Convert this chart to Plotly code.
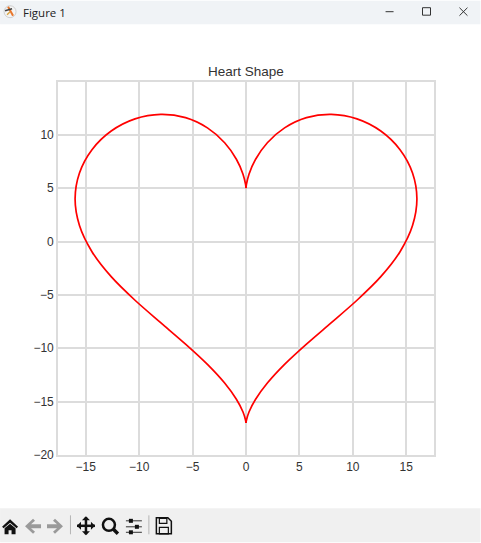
import plotly.graph_objects as go

W, H = 481, 543
L, R, T, B = 58, 434.5, 81.5, 455.5

# values
y_curve = [5, 5.35, 6.31, 7.71, 9.26, 10.65, 11.61, 11.92, 11.5, 10.36, 8.61, 6.43, 4,
           1.5, -0.95, -3.29, -5.5, -7.6, -9.61, -11.51, -13.26, -14.78, -15.97, -16.74, -17]
x_right = [0, 0.04, 0.28, 0.9, 2, 3.61, 5.66, 7.99, 10.39, 12.62, 14.42, 15.59, 16,
           15.59, 14.42, 12.62, 10.39, 7.99, 5.66, 3.61, 2, 0.9, 0.28, 0.04, 0]
x_left = [0, -0.04, -0.28, -0.9, -2, -3.61, -5.66, -7.99, -10.39, -12.62, -14.42, -15.59, -16,
          -15.59, -14.42, -12.62, -10.39, -7.99, -5.66, -3.61, -2, -0.9, -0.28, -0.04, 0]
x_ticks = [-15, -10, -5, 0, 5, 10, 15]
y_ticks = [-20, -15, -10, -5, 0, 5, 10]
title_text = "Heart Shape"
window_title = "Figure 1"


def px(x):
    return (x - L) / (R - L)


def py(y):
    return (B - y) / (B - T)


def poly(points, close=True):
    s = "M " + " L ".join(f"{px(a):.5f},{py(b):.5f}" for a, b in points)
    return s + (" Z" if close else "")


shapes = []


def add_path(points, fill=None, line=None, width=0, close=True):
    shapes.append(dict(type="path", xref="paper", yref="paper", path=poly(points, close),
                       fillcolor=fill if fill else "rgba(0,0,0,0)",
                       line=dict(color=line if line else "rgba(0,0,0,0)", width=width),
                       layer="above"))


def add_rect(x0, y0, x1, y1, fill=None, line=None, width=0):
    shapes.append(dict(type="rect", xref="paper", yref="paper",
                       x0=px(x0), x1=px(x1), y0=py(y0), y1=py(y1),
                       fillcolor=fill if fill else "rgba(0,0,0,0)",
                       line=dict(color=line if line else "rgba(0,0,0,0)", width=width),
                       layer="above"))


# window chrome
add_rect(0, 0, W, 23.5, fill="#f0f3f6")
add_rect(0, 509, W, H, fill="#f0f0f0")
# window buttons
add_path([(386, 11), (394, 11)], line="#333333", width=1, close=False)
add_rect(423, 7, 431, 14.5, line="#333333", width=1)
add_path([(460, 7), (468, 15)], line="#333333", width=1, close=False)
add_path([(468, 7), (460, 15)], line="#333333", width=1, close=False)
# app icon
shapes.append(dict(type="circle", xref="paper", yref="paper", x0=px(4), x1=px(16), y0=py(5), y1=py(17),
                   fillcolor="#f4f4f4", line=dict(color="#d0d0d0", width=1), layer="above"))
add_path([(8, 6), (13, 15)], line="#e8762c", width=2, close=False)
add_path([(5, 10), (12, 8)], line="#444444", width=1.5, close=False)
add_path([(7, 14), (10, 11)], line="#d9a441", width=1.5, close=False)
# home
add_path([(10, 520), (18, 527.5), (16.5, 529), (10, 523.5), (3.5, 529), (2, 527.5)], fill="#111111")
add_path([(4.5, 529), (10, 524.5), (15.5, 529), (15.5, 535), (11.5, 535), (11.5, 531),
          (8.5, 531), (8.5, 535), (4.5, 535)], fill="#111111")
# back / forward
add_path([(25, 527), (33, 519.5), (35, 521.5), (31, 525), (41, 525), (41, 529), (31, 529),
          (35, 532.5), (33, 534.5)], fill="#9a9a9a")
add_path([(63, 527), (55, 519.5), (53, 521.5), (57, 525), (47, 525), (47, 529), (57, 529),
          (53, 532.5), (55, 534.5)], fill="#9a9a9a")
# separators
add_path([(70.5, 516), (70.5, 535)], line="#b5b5b5", width=1, close=False)
add_path([(149, 516), (149, 535)], line="#b5b5b5", width=1, close=False)
# move
add_path([(77, 526.5), (95, 526.5)], line="#111111", width=2.5, close=False)
add_path([(86, 518), (86, 535)], line="#111111", width=2.5, close=False)
add_path([(77, 526.5), (81, 522.5), (81, 530.5)], fill="#111111")
add_path([(95, 526.5), (91, 522.5), (91, 530.5)], fill="#111111")
add_path([(86, 517), (82, 521), (90, 521)], fill="#111111")
add_path([(86, 536), (82, 532), (90, 532)], fill="#111111")
# zoom
shapes.append(dict(type="circle", xref="paper", yref="paper", x0=px(103), x1=px(115), y0=py(519.5), y1=py(531.5),
                   fillcolor="rgba(0,0,0,0)", line=dict(color="#111111", width=2.5), layer="above"))
add_path([(113.5, 530), (118, 534.5)], line="#111111", width=3.5, close=False)
# sliders
for yy, xx in [(521.5, 131), (527.5, 137), (533, 131)]:
    add_path([(126, yy), (142, yy)], line="#333333", width=1, close=False)
    add_rect(xx - 2, yy - 2, xx + 2, yy + 2, fill="#111111")
# save
add_path([(156.5, 518.5), (168, 518.5), (171.5, 522), (171.5, 534.5), (156.5, 534.5)], line="#111111", width=1.5)
add_rect(159.5, 519, 167, 524, line="#111111", width=1.2)
add_rect(159.5, 528, 168.5, 534.5, line="#111111", width=1.2)

annotations = [
    dict(text=window_title, xref="paper", yref="paper", x=px(20.5), y=py(12), xanchor="left", yanchor="middle",
         showarrow=False, font=dict(family="Open Sans", size=11.5, color="#222222")),
    dict(text=title_text, xref="paper", yref="paper", x=px(246), y=py(71), xanchor="center", yanchor="middle",
         showarrow=False, font=dict(family="Liberation Sans", size=13.5, color="#333333")),
]

fig = go.Figure()
line_style = dict(color="#ff0000", width=1.7, shape="spline", smoothing=0.8)
fig.add_trace(go.Scatter(x=x_right, y=y_curve, mode="lines", line=line_style, showlegend=False))
fig.add_trace(go.Scatter(x=x_left, y=y_curve, mode="lines", line=line_style, showlegend=False))

axis_style = dict(showgrid=True, gridcolor="#dcdcdc", gridwidth=1.6, zeroline=False,
                  showline=True, linecolor="#dcdcdc", linewidth=1.6, mirror=True, ticks="",
                  tickfont=dict(family="Liberation Sans", size=12, color="#333333"))
fig.update_layout(
    width=W, height=H, autosize=False,
    margin=dict(l=L, r=W - R, t=T, b=H - B, pad=0),
    paper_bgcolor="white", plot_bgcolor="white",
    xaxis=dict(range=[-17.6, 17.6], tickvals=x_ticks, **axis_style),
    yaxis=dict(range=[-20, 14.95], tickvals=y_ticks, **axis_style),
    shapes=shapes, annotations=annotations,
)
fig.write_html("out.html", config=dict(displayModeBar=False),
               post_script="document.body.style.margin='0';document.documentElement.style.overflow='hidden';")
